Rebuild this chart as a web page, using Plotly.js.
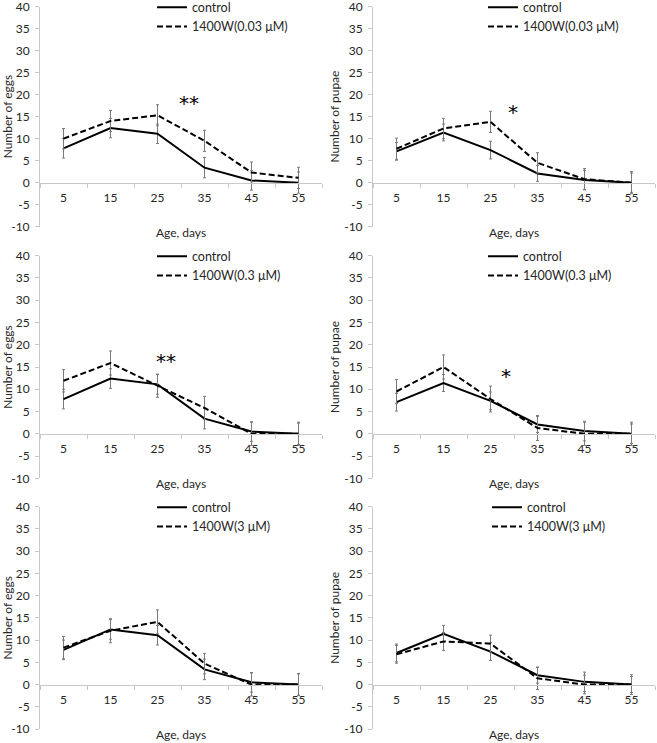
<!DOCTYPE html>
<html><head><meta charset="utf-8">
<script src="https://cdn.plot.ly/plotly-3.0.1.min.js"></script>
<style>html,body{margin:0;padding:0;background:#fff}#chart{width:657px;height:743px}</style>
</head><body><div id="chart"></div>
<script>
// ---- data ----
const ages = ['5', '15', '25', '35', '45', '55'];
const yTickVals = [-10, -5, 0, 5, 10, 15, 20, 25, 30, 35, 40];
const yTickText = ['-10', '-5', '0', '5', '10', '15', '20', '25', '30', '35', '40'];

const eggsControl    = [7.8, 12.4, 11.1, 3.4, 0.5, 0.0];
const eggsControlErr = [2.2, 2.2, 2.2, 2.3, 2.2, 2.4];
const pupaeControl    = [7.1, 11.4, 7.4, 2.1, 0.6, 0.0];
const pupaeControlErr = [2.0, 1.9, 2.0, 1.8, 2.2, 2.2];

const eggs003    = [10.0, 14.0, 15.3, 9.5, 2.3, 1.1];
const eggs003Err = [2.3, 2.4, 2.4, 2.4, 2.4, 2.4];
const pupae003    = [7.7, 12.3, 13.8, 4.5, 0.8, 0.0];
const pupae003Err = [2.4, 2.3, 2.4, 2.3, 2.4, 2.5];

const eggs03    = [11.9, 15.9, 10.8, 5.8, 0.0, 0.0];
const eggs03Err = [2.5, 2.7, 2.6, 2.6, 2.6, 2.6];
const pupae03    = [9.5, 15.0, 7.8, 1.3, 0.0, 0.0];
const pupae03Err = [2.7, 2.7, 2.9, 2.8, 2.6, 2.6];

const eggs3    = [8.3, 12.1, 14.1, 4.7, 0.0, 0.0];
const eggs3Err = [2.5, 2.7, 2.7, 2.3, 2.6, 2.5];
const pupae3    = [6.8, 9.7, 9.2, 1.4, 0.0, 0.0];
const pupae3Err = [2.0, 2.0, 1.9, 2.5, 2.1, 1.8];

const treatmentNames = ['1400W(0.03 μM)', '1400W(0.3 μM)', '1400W(3 μM)'];
const yTitles = ['Number of eggs', 'Number of pupae'];
const sigMarks = ['**', '*', '**', '*', '', ''];

// ---- layout helpers ----
const W = 657, H = 743;
const FONT = 'Lato, "Liberation Sans", Arial, sans-serif';
const TXT = '#262626';
const AXC = '#c8c8c8';
const colDom = [[40 / W, 322 / W], [373 / W, 655 / W]];
const rowPx = [[6.5, 226.7], [255.7, 478.3], [506.7, 729.0]];
const rowDom = rowPx.map(r => [1 - r[1] / H, 1 - r[0] / H]);
const Y0 = -10, Y1 = 40;
const zeroPos = d => d[0] + (d[1] - d[0]) * (0 - Y0) / (Y1 - Y0);

const panels = [
  {ctrl: eggsControl,  ctrlErr: eggsControlErr,  trt: eggs003,  trtErr: eggs003Err,  name: treatmentNames[0], yt: yTitles[0]},
  {ctrl: pupaeControl, ctrlErr: pupaeControlErr, trt: pupae003, trtErr: pupae003Err, name: treatmentNames[0], yt: yTitles[1]},
  {ctrl: eggsControl,  ctrlErr: eggsControlErr,  trt: eggs03,   trtErr: eggs03Err,   name: treatmentNames[1], yt: yTitles[0]},
  {ctrl: pupaeControl, ctrlErr: pupaeControlErr, trt: pupae03,  trtErr: pupae03Err,  name: treatmentNames[1], yt: yTitles[1]},
  {ctrl: eggsControl,  ctrlErr: eggsControlErr,  trt: eggs3,    trtErr: eggs3Err,    name: treatmentNames[2], yt: yTitles[0]},
  {ctrl: pupaeControl, ctrlErr: pupaeControlErr, trt: pupae3,   trtErr: pupae3Err,   name: treatmentNames[2], yt: yTitles[1]},
];

// significance mark positions (category index, y value)
const sigPos = [[2.67, 18.2], [2.47, 16.0], [2.18, 16.4], [2.32, 13.0], [0, 0], [0, 0]];
const legendLeftPx = [152, 483, 152, 483, 152, 487];

const traces = [];
const layout = {
  width: W, height: H,
  margin: {l: 0, r: 0, t: 0, b: 0, autoexpand: false},
  paper_bgcolor: '#fff', plot_bgcolor: 'rgba(0,0,0,0)',
  font: {family: FONT, color: TXT, size: 12},
  showlegend: true,
  annotations: []
};

const errStyle = arr => ({type: 'data', array: arr, visible: true, color: '#7a7a7a', thickness: 1, width: 1.5});

panels.forEach((p, k) => {
  const i = k + 1;
  const sfx = i === 1 ? '' : String(i);
  const col = k % 2, row = Math.floor(k / 2);
  const xa = 'x' + sfx, ya = 'y' + sfx, lg = 'legend' + sfx;

  traces.push({
    x: ages, y: p.ctrl, name: 'control', type: 'scatter', mode: 'lines',
    line: {color: '#000', width: 2}, error_y: errStyle(p.ctrlErr),
    xaxis: xa, yaxis: ya, legend: lg
  });
  traces.push({
    x: ages, y: p.trt, name: p.name, type: 'scatter', mode: 'lines',
    line: {color: '#000', width: 2, dash: '6px,3px'}, error_y: errStyle(p.trtErr),
    xaxis: xa, yaxis: ya, legend: lg
  });

  layout['xaxis' + sfx] = {
    domain: colDom[col], anchor: 'free', position: zeroPos(rowDom[row]),
    type: 'category', range: [-0.5, 5.5],
    showline: true, linecolor: AXC, linewidth: 1,
    ticks: 'outside', tickson: 'boundaries', ticklen: 4, tickcolor: AXC,
    ticklabelstandoff: 4, ticklabeloverflow: 'allow',
    tickfont: {family: FONT, size: 12, color: TXT},
    showgrid: false, zeroline: false, fixedrange: true, automargin: false,
    title: {text: 'Age, days', font: {family: FONT, size: 12, color: TXT}, standoff: 24}
  };
  layout['yaxis' + sfx] = {
    domain: rowDom[row], anchor: xa, range: [Y0, Y1],
    tickmode: 'array', tickvals: yTickVals, ticktext: yTickText,
    showline: true, linecolor: AXC, linewidth: 1,
    ticks: 'outside', ticklen: 4, tickcolor: AXC,
    ticklabelstandoff: 3, ticklabeloverflow: 'allow',
    tickfont: {family: FONT, size: 12, color: TXT},
    showgrid: false, zeroline: false, fixedrange: true, automargin: false,
    title: {text: p.yt, font: {family: FONT, size: 12, color: TXT}, standoff: 2}
  };
  layout[lg] = {
    x: legendLeftPx[k] / W, xanchor: 'left',
    y: rowDom[row][1] + 14 / H, yanchor: 'top',
    bgcolor: 'rgba(0,0,0,0)', borderwidth: 0,
    font: {family: FONT, size: 12.5, color: TXT},
    itemwidth: 30, traceorder: 'normal'
  };
  if (sigMarks[k]) {
    layout.annotations.push({
      xref: xa, yref: ya, x: sigPos[k][0], y: sigPos[k][1],
      text: sigMarks[k], showarrow: false,
      font: {family: '"DejaVu Sans", sans-serif', size: 20, color: '#000'}
    });
  }
});

Plotly.newPlot('chart', traces, layout, {staticPlot: true, displayModeBar: false});
</script>
</body></html>
